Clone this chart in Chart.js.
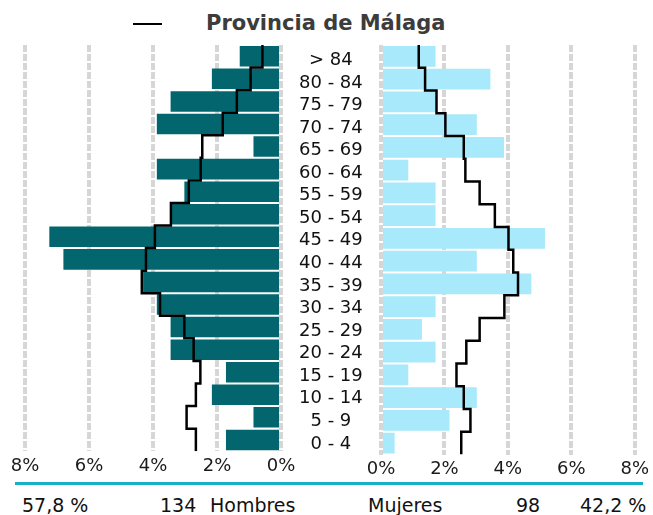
<!DOCTYPE html>
<html>
<head>
<meta charset="utf-8">
<script src="https://cdn.jsdelivr.net/npm/chart.js@4/dist/chart.umd.min.js"></script>
<style>
  body { margin: 0; background: #fff; width: 653px; height: 515px; overflow: hidden; position: relative; font-family: "DejaVu Sans", sans-serif; }
  .abs { position: absolute; }
  #legendLine { left: 133px; top: 23px; width: 29px; height: 2px; background: #000; }
  #title { left: 206px; top: 13px; font-size: 21px; line-height: 21px; font-weight: bold; color: #3c3c3c; white-space: nowrap; }
  #footLine { left: 15px; top: 482px; width: 628px; height: 3px; background: #17b0c6; }
  .foot { top: 496px; font-size: 19px; line-height: 19px; color: #111; white-space: nowrap; }
</style>
</head>
<body>
<div id="legendLine" class="abs"></div>
<div id="title" class="abs">Provincia de Málaga</div>

<div class="abs" style="left:0;top:0;"><canvas id="menChart" width="382" height="480"></canvas></div>
<div class="abs" style="left:361px;top:0;"><canvas id="womenChart" width="292" height="480"></canvas></div>

<div id="footLine" class="abs"></div>
<span class="abs foot" style="left:22px;">57,8 %</span>
<span class="abs foot" style="left:160px;">134</span>
<span class="abs foot" style="left:210px;">Hombres</span>
<span class="abs foot" style="left:368px;">Mujeres</span>
<span class="abs foot" style="left:516px;">98</span>
<span class="abs foot" style="left:580px;">42,2 %</span>

<script>
/* ---------- DATA ---------- */
const ageGroups = ["> 84", "80 - 84", "75 - 79", "70 - 74", "65 - 69", "60 - 64", "55 - 59",
    "50 - 54", "45 - 49", "40 - 44", "35 - 39", "30 - 34", "25 - 29", "20 - 24",
    "15 - 19", "10 - 14", "5 - 9", "0 - 4"];

// % of total population (municipio)
const menPct   = [1.29, 2.16, 3.45, 3.88, 0.86, 3.88, 3.02, 3.45, 7.24, 6.80, 4.31, 3.88, 3.45, 3.45, 1.72, 2.16, 0.86, 1.72];
const womenPct = [1.72, 3.45, 1.72, 3.02, 3.88, 0.86, 1.72, 1.72, 5.17, 3.02, 4.74, 1.72, 1.29, 1.72, 0.86, 3.02, 2.16, 0.43];

// Provincia de Málaga reference profile
const provMen   = [0.58, 0.95, 1.38, 1.82, 2.46, 2.51, 2.88, 3.44, 3.94, 4.22, 4.35, 3.78, 3.02, 2.73, 2.52, 2.66, 2.95, 2.66];
const provWomen = [1.19, 1.39, 1.75, 2.03, 2.61, 2.66, 3.11, 3.59, 4.02, 4.17, 4.32, 3.89, 3.11, 2.69, 2.38, 2.61, 2.82, 2.53];

const xTicks = [0, 2, 4, 6, 8];

/* ---------- STYLE ---------- */
const MEN_COLOR = "#03666f";
const WOMEN_COLOR = "#a8e9fb";
const GRID_COLOR = "#d6d6d6";
const FONT = { family: "DejaVu Sans", size: 18 };

/* step outline: one vertical segment per age band */
function stepPoints(vals) {
    const pts = [];
    vals.forEach((v, i) => {
        pts.push({ x: v, y: i - 0.5 });
        pts.push({ x: v, y: i + 0.5 });
    });
    return pts;
}

function xScale(reverse) {
    return {
        type: "linear",
        reverse: reverse,
        min: xTicks[0],
        max: xTicks[xTicks.length - 1],
        afterBuildTicks: s => { s.ticks = xTicks.map(v => ({ value: v })); },
        ticks: { callback: v => v + "%", font: FONT, color: "#1a1a1a", padding: 4, maxRotation: 0 },
        grid: { color: GRID_COLOR, lineWidth: 4, drawTicks: false },
        border: { display: false, dash: [7, 2] },
        afterFit: s => { s.height = 25.5; }
    };
}

// hidden linear axis matching the category bands, used for the step outline
function lineScale() {
    return { type: "linear", axis: "y", display: false, offset: false, reverse: true, min: -0.5, max: ageGroups.length - 0.5 };
}

function pyramidSide(canvasId, pct, prov, color, left) {
    return new Chart(document.getElementById(canvasId), {
        type: "bar",
        data: {
            labels: ageGroups,
            datasets: [
                {
                    type: "line",
                    indexAxis: "y",
                    label: "Provincia de Málaga",
                    data: stepPoints(prov),
                    xAxisID: "x",
                    yAxisID: "yLine",
                    borderColor: "#000",
                    borderWidth: 2.5,
                    pointRadius: 0,
                    tension: 0,
                    fill: false,
                    order: 0
                },
                {
                    type: "bar",
                    label: left ? "Hombres" : "Mujeres",
                    data: pct,
                    xAxisID: "x",
                    yAxisID: "y",
                    backgroundColor: color,
                    borderWidth: 0,
                    grouped: false,
                    barPercentage: 0.91,
                    categoryPercentage: 1,
                    order: 1
                }
            ]
        },
        options: {
            indexAxis: "y",
            responsive: false,
            animation: false,
            devicePixelRatio: 1,
            layout: { padding: left ? { left: 25, top: 45, right: 0, bottom: 0 } : { left: 20, top: 45, right: 16.3, bottom: 0 } },
            plugins: { legend: { display: false }, tooltip: { enabled: false } },
            scales: {
                x: xScale(left),
                y: left ? {
                    type: "category",
                    position: "right",
                    grid: { display: false, drawTicks: false },
                    border: { display: false },
                    ticks: { autoSkip: false, crossAlign: "center", font: FONT, color: "#111", padding: 18, labelOffset: 4 },
                    afterFit: s => { s.width = 101; }
                } : { type: "category", display: false },
                yLine: lineScale()
            }
        }
    });
}

pyramidSide("menChart", menPct, provMen, MEN_COLOR, true);
pyramidSide("womenChart", womenPct, provWomen, WOMEN_COLOR, false);
</script>
</body>
</html>
